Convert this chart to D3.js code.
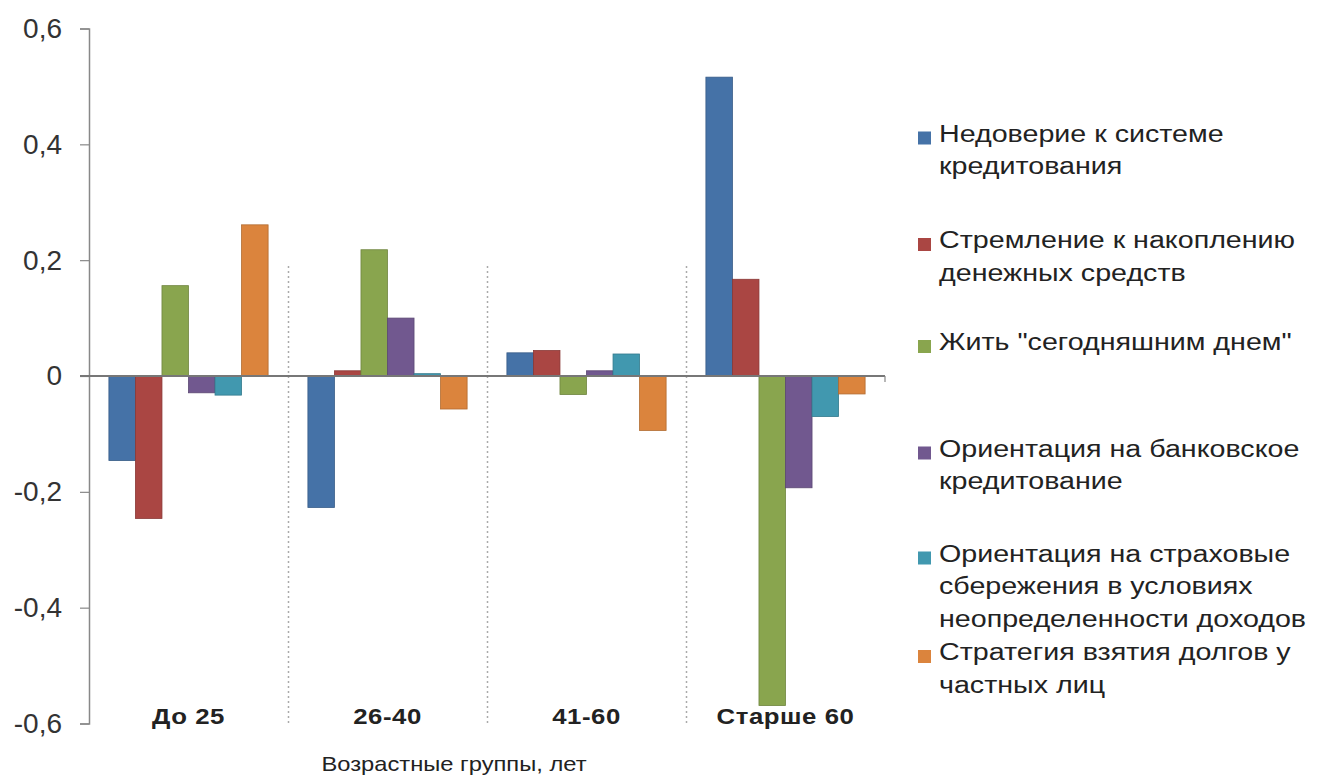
<!DOCTYPE html>
<html><head><meta charset="utf-8">
<script src="https://cdn.jsdelivr.net/npm/d3@7/dist/d3.min.js"></script>
<style>
html,body{margin:0;padding:0;background:#fff;}
svg{display:block;font-family:"Liberation Sans",Arial,sans-serif;}
</style></head>
<body><svg id="c" width="1319" height="778"></svg>
<script>
const categories = ["До 25", "26-40", "41-60", "Старше 60"];
const seriesNames = [
  "Недоверие к системе кредитования",
  "Стремление к накоплению денежных средств",
  "Жить \"сегодняшним днем\"",
  "Ориентация на банковское кредитование",
  "Ориентация на страховые сбережения в условиях неопределенности доходов",
  "Стратегия взятия долгов у частных лиц"
];
const legendLines = [
  ["Недоверие к системе", "кредитования"],
  ["Стремление к накоплению", "денежных средств"],
  ["Жить \"сегодняшним днем\""],
  ["Ориентация на банковское", "кредитование"],
  ["Ориентация на страховые", "сбережения в условиях", "неопределенности доходов"],
  ["Стратегия взятия долгов у", "частных лиц"]
];
const colors = ["#4572A7", "#AA4643", "#89A54E", "#71588F", "#4198AF", "#DB843D"];
const distrust   = [-0.146, -0.227, 0.040, 0.516];
const saving     = [-0.246, 0.009, 0.044, 0.167];
const liveToday  = [0.156, 0.218, -0.032, -0.569];
const bankCredit = [-0.029, 0.100, 0.009, -0.193];
const insurance  = [-0.033, 0.004, 0.038, -0.070];
const privDebt   = [0.261, -0.057, -0.094, -0.031];
const seriesValues = [distrust, saving, liveToday, bankCredit, insurance, privDebt];
const yTicks = [0.6, 0.4, 0.2, 0, -0.2, -0.4, -0.6];
const yTickLabels = ["0,6", "0,4", "0,2", "0", "-0,2", "-0,4", "-0,6"];
const xTitle = "Возрастные группы, лет";

const svg = d3.select("#c");
const mLeft = 89, mRight = 885, mTop = 28.5, mBottom = 723.5;
const y = d3.scaleLinear().domain([-0.6, 0.6]).range([mBottom, mTop]);
const x0 = d3.scaleBand().domain(categories).range([mLeft, mRight]).padding(0);
const x1 = d3.scaleBand().domain(d3.range(seriesNames.length)).range([0, x0.bandwidth()]).paddingInner(0).paddingOuter(0.75);

// dotted category dividers
const divs = categories.slice(1).map(c => x0(c));
svg.append("g").selectAll("line").data(divs).join("line")
  .attr("x1", d => d + 0.5).attr("x2", d => d + 0.5)
  .attr("y1", y(0.19)).attr("y2", mBottom)
  .attr("stroke", "#aaa").attr("stroke-width", 1.5).attr("stroke-dasharray", "2,3");

// bars
const g = svg.append("g");
categories.forEach((c, ci) => {
  g.append("g").attr("transform", `translate(${x0(c)},0)`)
    .selectAll("rect").data(seriesValues.map((s, si) => ({si, v: s[ci]}))).join("rect")
    .attr("x", d => x1(d.si))
    .attr("width", x1.bandwidth())
    .attr("y", d => y(Math.max(0, d.v)))
    .attr("height", d => Math.abs(y(d.v) - y(0)))
    .attr("fill", d => colors[d.si])
    .attr("stroke", d => d3.color(colors[d.si]).darker(0.6))
    .attr("stroke-width", 0.8);
});

// y axis
const yAxis = d3.axisLeft(y).tickValues(yTicks).tickSize(9).tickFormat((d, i) => yTickLabels[i]);
const ya = svg.append("g").attr("transform", `translate(${mLeft},0)`).call(yAxis);
ya.select(".domain").attr("stroke", "#888").attr("stroke-width", 1.5);
ya.selectAll(".tick line").attr("stroke", "#888").attr("stroke-width", 1.2);
ya.selectAll(".tick text").attr("x", -27).attr("fill", "#333")
  .style("font-size", "28px").style("font-family", "'Liberation Sans',Arial,sans-serif");

// zero line
svg.append("line").attr("x1", mLeft - 9).attr("x2", mRight).attr("y1", y(0)).attr("y2", y(0))
  .attr("stroke", "#777").attr("stroke-width", 2);
svg.append("line").attr("x1", mRight).attr("x2", mRight).attr("y1", y(0)).attr("y2", y(0) + 6)
  .attr("stroke", "#888").attr("stroke-width", 1.2);

// category labels
svg.append("g").selectAll("text").data(categories).join("text")
  .attr("transform", d => `translate(${x0(d) + x0.bandwidth() / 2},724) scale(1.12,1)`)
  .attr("text-anchor", "middle")
  .style("font-size", "23px").style("font-weight", "bold").style("letter-spacing", "0.5px")
  .attr("fill", "#222")
  .text(d => d);

// x title
svg.append("text").attr("transform", "translate(454,771) scale(1.13,1)").attr("text-anchor", "middle")
  .style("font-size", "21px").attr("fill", "#222").text(xTitle);

// legend
const legendY = [141.5, 248, 350, 456.5, 561.5, 660];
const lg = svg.append("g");
legendLines.forEach((lines, i) => {
  lg.append("rect").attr("x", 918).attr("y", legendY[i] - 10).attr("width", 13).attr("height", 13)
    .attr("fill", colors[i]);
  const t = lg.append("text").attr("transform", `translate(939,${legendY[i]}) scale(1.245,1)`)
    .style("font-size", "23px").attr("fill", "#222");
  lines.forEach((l, li) => {
    t.append("tspan").attr("x", 0).attr("dy", li === 0 ? 0 : 33).text(l);
  });
});
</script>
</body></html>
